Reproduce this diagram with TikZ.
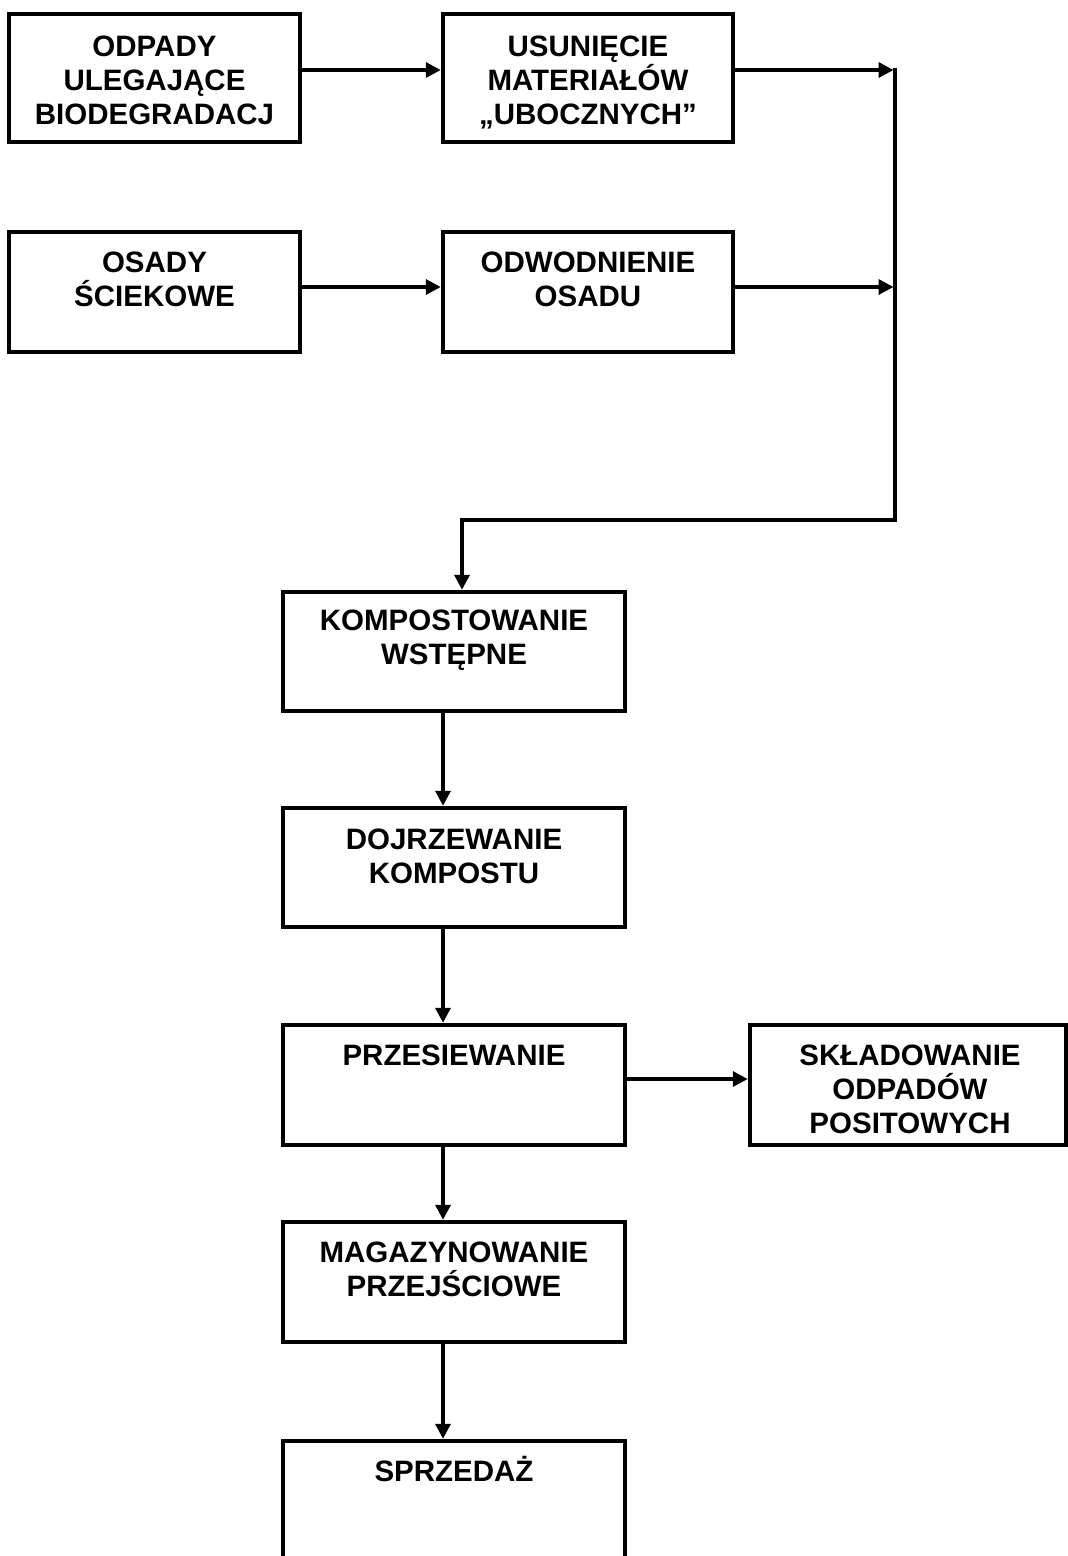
\documentclass[tikz,border=0pt]{standalone}
\usepackage{fontspec}
\setmainfont{Liberation Sans}
\usetikzlibrary{arrows.meta,calc}
\tikzset{
  box/.style={draw=black,line width=4.5pt,rectangle,inner sep=0pt,fill=none},
  lbl/.style={anchor=north,inner sep=0pt,align=center,font=\bfseries\fontsize{29.5}{34}\selectfont},
  conn/.style={line width=3.5pt,-{Triangle[length=15pt,width=15pt]}},
  plain/.style={line width=3.5pt},
}
\newcommand{\topstrut}{\rule{0pt}{28pt}}
\begin{document}
\begin{tikzpicture}[x=1pt,y=-1pt]
\path[use as bounding box] (0,0) rectangle (1068,1556);
\clip (0,0) rectangle (1068,1556);
% boxes
\node[box,minimum width=291pt,minimum height=128pt] (A) at (154.5,78) {};
\node[box,minimum width=290pt,minimum height=128pt] (B) at (588,78) {};
\node[box,minimum width=291pt,minimum height=120pt] (C) at (154.5,292) {};
\node[box,minimum width=290pt,minimum height=120pt] (D) at (588,292) {};
\node[box,minimum width=342pt,minimum height=119pt] (E) at (454,651.5) {};
\node[box,minimum width=342pt,minimum height=119pt] (F) at (454,867.5) {};
\node[box,minimum width=342pt,minimum height=120pt] (G) at (454,1085) {};
\node[box,minimum width=316pt,minimum height=120pt] (H) at (908,1085) {};
\node[box,minimum width=342pt,minimum height=120pt] (I) at (454,1282) {};
\node[box,minimum width=342pt,minimum height=160pt] (J) at (454,1521) {};
% texts
\node[lbl] (tA) at (154.5,28) {\topstrut ODPADY\\ULEGAJĄCE\\BIODEGRADACJ};
\node[lbl] (tB) at (588,28) {\topstrut USUNIĘCIE\\MATERIAŁÓW\\„UBOCZNYCH”};
\node[lbl] (tC) at (154.5,244) {\topstrut OSADY\\ŚCIEKOWE};
\node[lbl] (tD) at (588,244) {\topstrut ODWODNIENIE\\OSADU};
\node[lbl] (tE) at (454,602) {\topstrut KOMPOSTOWANIE\\WSTĘPNE};
\node[lbl] (tF) at (454,821) {\topstrut DOJRZEWANIE\\KOMPOSTU};
\node[lbl] (tG) at (454,1037) {\topstrut PRZESIEWANIE};
\node[lbl] (tH) at (910,1037) {\topstrut SKŁADOWANIE\\ODPADÓW\\POSITOWYCH};
\node[lbl] (tI) at (454,1234) {\topstrut MAGAZYNOWANIE\\PRZEJŚCIOWE};
\node[lbl] (tJ) at (454,1453) {\topstrut SPRZEDAŻ};
% junction coordinates
\coordinate (j1) at (895,70);
\coordinate (j2) at (895,287);
\coordinate (j3) at (895,520);
\coordinate (j4) at (462,520);
% connectors
\draw[conn] ([yshift=8pt]A.east) -- ([yshift=8pt]B.west);
\draw[conn] ([yshift=5pt]C.east) -- ([yshift=5pt]D.west);
\draw[conn] ([yshift=8pt]B.east) -- ([xshift=-1.5pt]j1);
\draw[conn] ([yshift=5pt]D.east) -- ([xshift=-1.5pt]j2);
\draw[plain,line cap=rect] (j1) -- (j3) -- (j4);
\draw[conn] (j4) -- (j4 |- E.north);
\draw[conn] ([xshift=-11pt]E.south) -- ([xshift=-11pt]F.north);
\draw[conn] ([xshift=-11pt]F.south) -- ([xshift=-11pt]G.north);
\draw[conn] ([yshift=6pt]G.east) -- ([yshift=6pt]H.west);
\draw[conn] ([xshift=-11pt]G.south) -- ([xshift=-11pt]I.north);
\draw[conn] ([xshift=-11pt]I.south) -- ([xshift=-11pt]J.north);
\end{tikzpicture}
\end{document}
